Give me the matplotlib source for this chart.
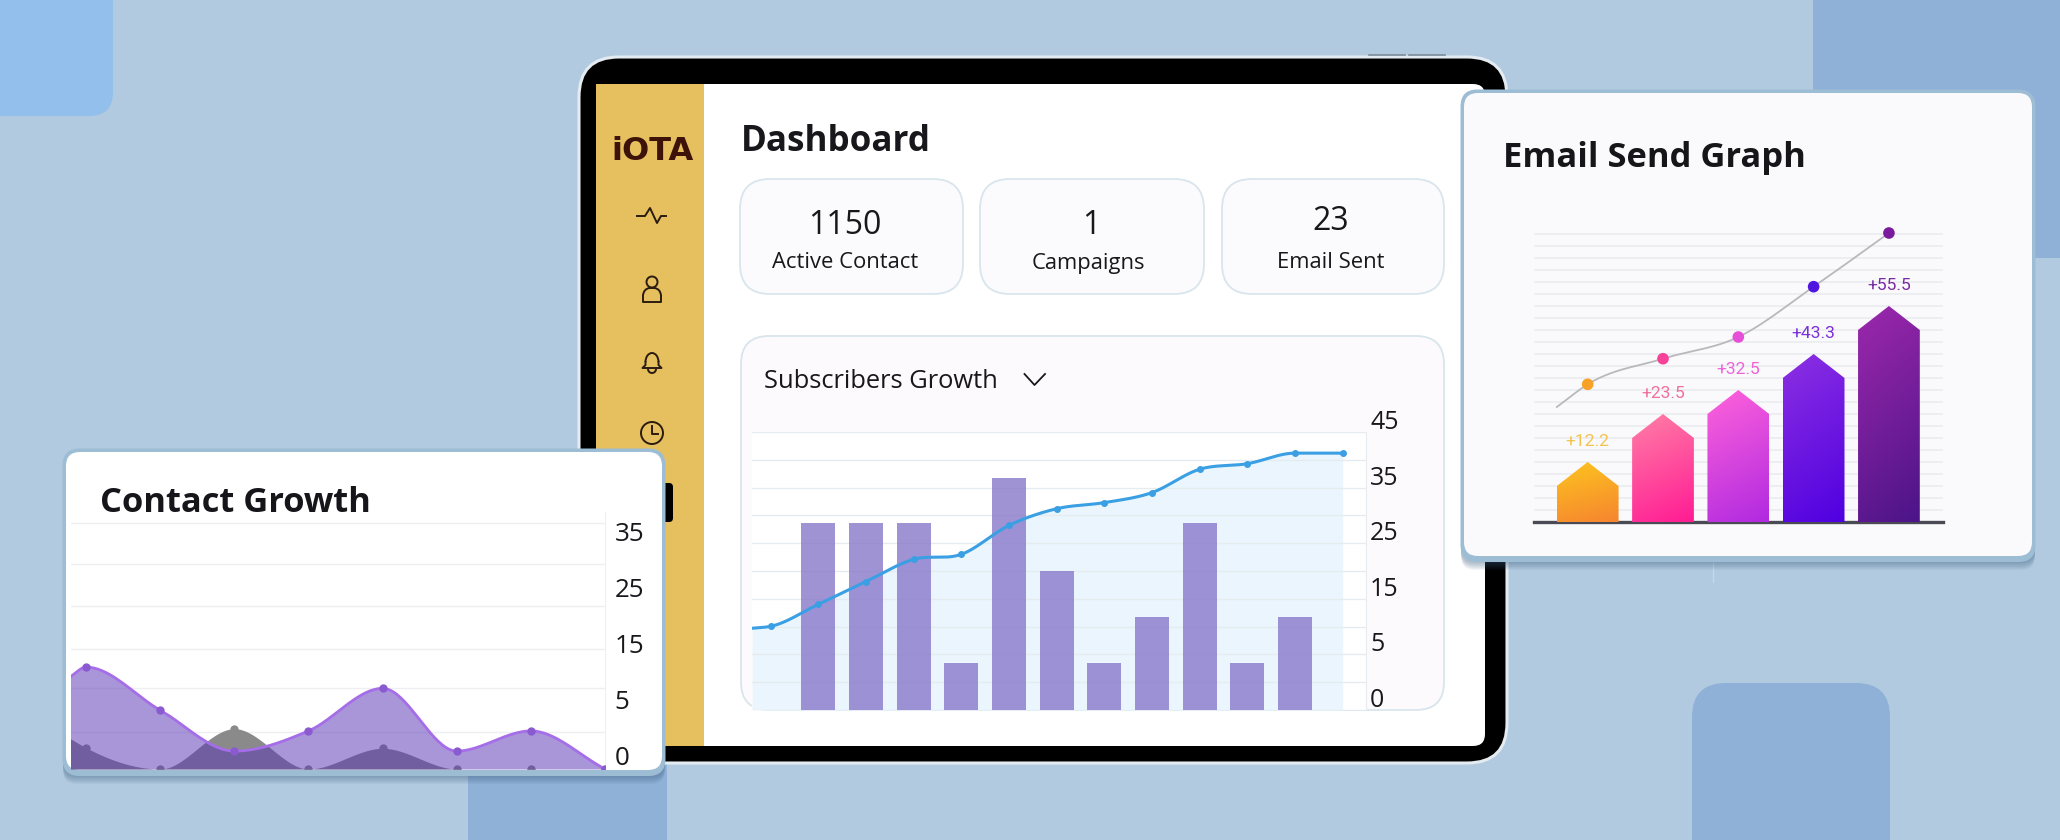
import numpy as np
import matplotlib
matplotlib.use('Agg')
import matplotlib.pyplot as plt
from matplotlib.colors import to_rgb
from matplotlib.patches import FancyBboxPatch, Polygon, Circle, Arc
from matplotlib.transforms import ScaledTranslation

plt.rcParams['font.family'] = ['Open Sans', 'DejaVu Sans']

W, H = 2060, 840

# subscribers growth chart
sub_ticks = [0, 5, 15, 25, 35, 45]
sub_grid = [2.5, 10, 20, 30, 40]
sub_bar_x = [1, 2, 3, 4, 5, 6, 7, 8, 9, 10, 11]
sub_bars = [28.6, 28.6, 28.6, 4.2, 36.8, 20, 4.2, 11.7, 28.6, 4.2, 11.7]
sub_line_x = [-0.39, 0, 1, 2, 3, 4, 5, 6, 7, 8, 9, 10, 11, 12]
sub_line = [9.7, 10.05, 14, 18.1, 22.1, 23, 28.2, 31.2, 32.3, 34.1, 38.3, 39.3, 41.2, 41.2]

# contact growth chart
contact_ticks = [0, 5, 15, 25, 35]
contact_grid = [3.3, 9.5, 16.4, 24.1, 31.6, 38.9]
contact_x = [-0.21, 0, 1, 2, 3, 4, 5, 6, 7]
contact_purple = [11.5, 13.2, 5.5, 1.6, 3.4, 9.4, 1.6, 3.4, 0]
contact_gray = [2.7, 1.9, 0, 3.6, 0, 1.85, 0, 0, 0]

# email send graph, heights are pixels
email_x = [0, 1, 2, 3, 4]
email_labels = ['+12.2', '+23.5', '+32.5', '+43.3', '+55.5']
email_bars = [60, 108, 132, 168, 216]
email_curve_x = [-0.41, 0, 1, 2, 3, 4]
email_curve = [115, 137.7, 163.3, 185, 235.3, 289]
email_top = ['#fdc41f', '#ff7ea6', '#ff62da', '#8c30e2', '#9c28ac']
email_bottom = ['#f6852f', '#ff1c94', '#b02ae0', '#4f00e0', '#4c1488']
email_dot = ['#f7a128', '#f7429a', '#e64fd8', '#5016e0', '#7a1a9e']
email_text = ['#f3c34f', '#f0709c', '#ee62d8', '#7a2fd9', '#7a2ba3']

# stat cards
stat_vals = ['1150', '1', '23']
stat_names = ['Active Contact', 'Campaigns', 'Email Sent']

fig = plt.figure(figsize=(W / 100, H / 100), dpi=100)
fig.patch.set_facecolor('#b1cae0')

bg = fig.add_axes([0, 0, 1, 1])
bg.set_xlim(0, W)
bg.set_ylim(H, 0)
bg.axis('off')


def pt(px):
    return px * 0.72


def box(x0, y0, x1, y1, r, fc, ec='none', lw=0, z=1, alpha=None):
    p = FancyBboxPatch((x0, y0), x1 - x0, y1 - y0, boxstyle='round,pad=0,rounding_size=%s' % r,
                       fc=fc, ec=ec, lw=lw, zorder=z, alpha=alpha)
    bg.add_patch(p)


def card(x0, y0, x1, y1, r, fc, z):
    # soft shadow, blue band, then the card itself
    for i in range(1, 9):
        box(x0 - 3, y0 + i, x1 + 3, y1 + 6 + i, r, '#3d5f80', z=z, alpha=0.06)
    box(x0 - 3.5, y0 - 3.5, x1 + 3.5, y1 + 6, r + 3, '#9dbdd4', z=z + 0.05)
    box(x0, y0, x1, y1, r, fc, z=z + 0.1)


def axes_px(x0, y0, x1, y1):
    return fig.add_axes([x0 / W, 1 - y1 / H, (x1 - x0) / W, (y1 - y0) / H])


def smooth(x, y):
    # monotone hermite curve through the read points, for drawing only
    x = np.array(x, dtype=float)
    y = np.array(y, dtype=float)
    m = np.gradient(y, x)
    for i in range(1, len(x) - 1):
        if (y[i] - y[i - 1]) * (y[i + 1] - y[i]) <= 0:
            m[i] = 0
    xs, ys = [], []
    for i in range(len(x) - 1):
        h = x[i + 1] - x[i]
        t = np.linspace(0, 1, 40)
        xs.append(x[i] + t * h)
        ys.append((2 * t**3 - 3 * t**2 + 1) * y[i] + (t**3 - 2 * t**2 + t) * h * m[i]
                  + (-2 * t**3 + 3 * t**2) * y[i + 1] + (t**3 - t**2) * h * m[i + 1])
    return np.concatenate(xs), np.concatenate(ys)


# the labels go 0, 5, 15, ... at equal distances
scale_v = [0, 5, 15, 25, 35, 45]
scale_p = [0, 1, 2, 3, 4, 5]


def fwd(v):
    return np.interp(v, scale_v, scale_p)


def inv(p):
    return np.interp(p, scale_p, scale_v)


def smooth_scaled(x, y):
    xs, ps = smooth(x, fwd(y))
    return xs, inv(ps)


def lift_labels(a, px):
    # the labels sit just above their grid line
    for t in a.get_yticklabels():
        t.set_va('baseline')
        t.set_transform(t.get_transform() + ScaledTranslation(0, px / 100, fig.dpi_scale_trans))


# background blocks
box(-60, -60, 113, 116, 24, '#92bfeb')
box(1813, -60, 2120, 258, 24, '#8fb0d7')
box(468, 700, 667, 900, 10, '#8fb0d7')
box(1692, 683, 1890, 900, 34, '#8fb0d7')

# tablet
box(579, 57, 1507, 763, 40, '#000000', ec='#e4ebf1', lw=2.2, z=2)
box(596, 84, 1485, 746, 12, '#ffffff', z=3)
bg.add_patch(plt.Rectangle((596, 84), 108, 662, fc='#e6bf5e', zorder=3.1))
bg.plot([1369, 1405], [55, 55], color='#7d8c9a', lw=1.2, zorder=2)
bg.plot([1409, 1445], [55, 55], color='#7d8c9a', lw=1.2, zorder=2)
box(655, 483, 673, 522, 4, '#000000', z=3.2)
bg.plot([1712.5, 1712.5], [560, 582], color='#c9d8e5', lw=1, zorder=1.5)

# sidebar
bg.text(652, 151, 'iOTA', ha='center', va='center', fontsize=pt(32), fontweight='bold',
        family='DejaVu Sans', color='#3d1208', zorder=4)
ic = '#2a1c10'
bg.plot([637, 645, 650, 657, 661, 666], [216, 216, 208, 223, 216, 216], color=ic, lw=1.4, zorder=4)
bg.add_patch(Circle((652, 282), 5.5, fc='none', ec=ic, lw=1.4, zorder=4))
bg.add_patch(Arc((650, 296), 14, 16, theta1=180, theta2=270, ec=ic, lw=1.4, zorder=4))
bg.add_patch(Arc((654, 296), 14, 16, theta1=270, theta2=360, ec=ic, lw=1.4, zorder=4))
bg.plot([643, 643, 661, 661], [296, 302, 302, 296], color=ic, lw=1.4, zorder=4)
bg.plot([650, 654], [288, 288], color=ic, lw=1.4, zorder=4)
bg.add_patch(Arc((652, 362), 13, 18, theta1=180, theta2=360, ec=ic, lw=1.4, zorder=4))
bg.plot([645.5, 645.5, 642.5, 661.5, 658.5, 658.5], [362, 365, 368, 368, 365, 362], color=ic, lw=1.4, zorder=4)
bg.add_patch(Arc((652, 369), 8, 8, theta1=0, theta2=180, ec=ic, lw=1.4, zorder=4))
bg.add_patch(Circle((652, 433), 11, fc='none', ec=ic, lw=1.4, zorder=4))
bg.plot([652, 652, 658], [426, 434, 434], color=ic, lw=1.4, zorder=4)

# dashboard header and stat cards
bg.text(741, 142, 'Dashboard', ha='left', va='center', fontsize=pt(35), fontweight='bold',
        color='#17171c', zorder=4)
stat_boxes = [(740, 963), (980, 1204), (1222, 1444)]
stat_val_x = [845, 1091, 1331]
stat_val_y = [226, 226, 222]
stat_name_x = [845, 1088, 1331]
for i in range(3):
    box(stat_boxes[i][0], 179, stat_boxes[i][1], 294, 30, '#fbfbfd', ec='#d9e5ed', lw=1.3, z=3.5)
    bg.text(stat_val_x[i], stat_val_y[i], stat_vals[i], ha='center', va='center', fontsize=pt(32),
            color='#17171c', zorder=4)
    bg.text(stat_name_x[i], 263, stat_names[i], ha='center', va='center', fontsize=pt(22),
            color='#17171c', zorder=4)

# subscribers card
box(741, 336, 1444, 710, 28, '#fcfafd', ec='#d9e5ed', lw=1.3, z=3.5)
bg.text(764, 381, 'Subscribers Growth', ha='left', va='center', fontsize=pt(25.5), color='#17171c', zorder=4)
bg.plot([1024.5, 1034.5, 1045], [374, 385, 374], color='#17171c', lw=1.3, zorder=4)

# overlay cards
card(66, 452, 662, 770, 14, '#ffffff', 5)
bg.text(100, 503, 'Contact Growth', ha='left', va='center', fontsize=pt(34.5), fontweight='bold',
        color='#15151a', zorder=6)
card(1464, 93, 2032, 556, 14, '#fafafc', 5)
bg.text(1503, 158, 'Email Send Graph', ha='left', va='center', fontsize=pt(34.5), fontweight='bold',
        color='#15151a', zorder=6)

# subscribers chart
ax = axes_px(752, 432, 1366, 710)
ax.set_yscale('function', functions=(fwd, inv))
lx, ly = smooth_scaled(sub_line_x, sub_line)
ax.fill_between(lx, 0, ly, color='#eaf5fd', lw=0, zorder=1)
ax.bar(sub_bar_x, sub_bars, width=0.713, color='#8a7bcb', alpha=0.82, lw=0, zorder=3)
ax.plot(lx, ly, color='#3b9fe3', lw=2.2, zorder=4)
ax.plot(sub_line_x[1:], sub_line[1:], 'o', color='#3b9fe3', ms=4, zorder=4)
ax.set_xlim(-0.39, 12.49)
ax.set_ylim(0, 45)
ax.set_xticks([])
ax.set_yticks(sub_ticks)
ax.set_yticks(sub_grid, minor=True)
ax.yaxis.tick_right()
ax.tick_params(axis='y', which='both', length=0, pad=3, labelsize=pt(25), labelcolor='#17171c')
lift_labels(ax, 3)
ax.grid(axis='y', which='both', color='#e6ebf0', lw=1)
for s in ['top', 'left', 'bottom']:
    ax.spines[s].set_visible(False)
ax.spines['right'].set_color('#e6ebf0')

# contact chart
ax2 = axes_px(70.5, 512, 605, 769)
ax2.set_yscale('function', functions=(fwd, inv))
gx, gy = smooth_scaled(contact_x, contact_gray)
px, py = smooth_scaled(contact_x, contact_purple)
ax2.fill_between(gx, 0, gy, color='#8a8a8a', lw=0, zorder=2)
ax2.plot(contact_x[1:], contact_gray[1:], 'o', color='#8a8a8a', ms=5, zorder=2)
ax2.fill_between(px, 0, py, color='#5937b6', alpha=0.52, lw=0, zorder=3)
ax2.plot(px, py, color='#a66de8', lw=2, zorder=4)
ax2.plot(contact_x[1:], contact_purple[1:], 'o', color='#8a5bd0', ms=5, zorder=4)
ax2.set_xlim(-0.21, 7.0)
ax2.set_ylim(0, 40.9)
ax2.set_xticks([])
ax2.set_yticks(contact_ticks)
ax2.set_yticks(contact_grid, minor=True)
ax2.yaxis.tick_right()
ax2.tick_params(axis='y', which='both', length=0, pad=7, labelsize=pt(26), labelcolor='#17171c')
lift_labels(ax2, 4)
ax2.grid(axis='y', which='minor', color='#eeeff2', lw=1)
for s in ['top', 'left', 'bottom']:
    ax2.spines[s].set_visible(False)
ax2.spines['right'].set_color('#eeeff2')
ax2.patch.set_alpha(0)

# email chart
ax3 = axes_px(1533.7, 225, 1943, 522)
w = 0.82
roof = 24
for i, x in enumerate(email_x):
    h = email_bars[i]
    poly = Polygon([(x - w / 2, 0), (x - w / 2, h - roof), (x, h), (x + w / 2, h - roof), (x + w / 2, 0)],
                   fc='none', ec='none', zorder=3)
    ax3.add_patch(poly)
    u, v = np.meshgrid(np.linspace(0, 1, 32), np.linspace(0, 1, 64))
    t = 0.8 * v + 0.2 * u
    c0, c1 = np.array(to_rgb(email_top[i])), np.array(to_rgb(email_bottom[i]))
    img = c0[None, None, :] * (1 - t[..., None]) + c1[None, None, :] * t[..., None]
    # origin upper so row 0 is the top colour
    im = ax3.imshow(img, extent=(x - w / 2, x + w / 2, 0, h), origin='upper', aspect='auto', zorder=3)
    im.set_clip_path(poly)
    ax3.text(x, h + 20, email_labels[i], ha='center', va='center', color=email_text[i], fontsize=pt(17.5),
             family=['Liberation Sans Narrow', 'Roboto'], zorder=5)
cx, cy = smooth(email_curve_x, email_curve)
ax3.plot(cx, cy, color='#b9b9bd', lw=1.3, zorder=2)
ax3.scatter(email_x, email_curve[1:], c=email_dot, s=70, zorder=4, lw=0)
ax3.set_xlim(-0.717, 4.718)
ax3.set_ylim(0, 297)
ax3.set_xticks([])
ax3.set_yticks(np.arange(12, 297, 12))
ax3.set_yticklabels([])
ax3.tick_params(axis='y', length=0)
ax3.grid(axis='y', color='#eaebef', lw=1.1)
ax3.set_axisbelow(True)
for s in ['top', 'left', 'right']:
    ax3.spines[s].set_visible(False)
ax3.spines['bottom'].set_color('#4a4a55')
ax3.spines['bottom'].set_linewidth(2.4)
ax3.patch.set_alpha(0)

fig.savefig('out.png', dpi=100)
